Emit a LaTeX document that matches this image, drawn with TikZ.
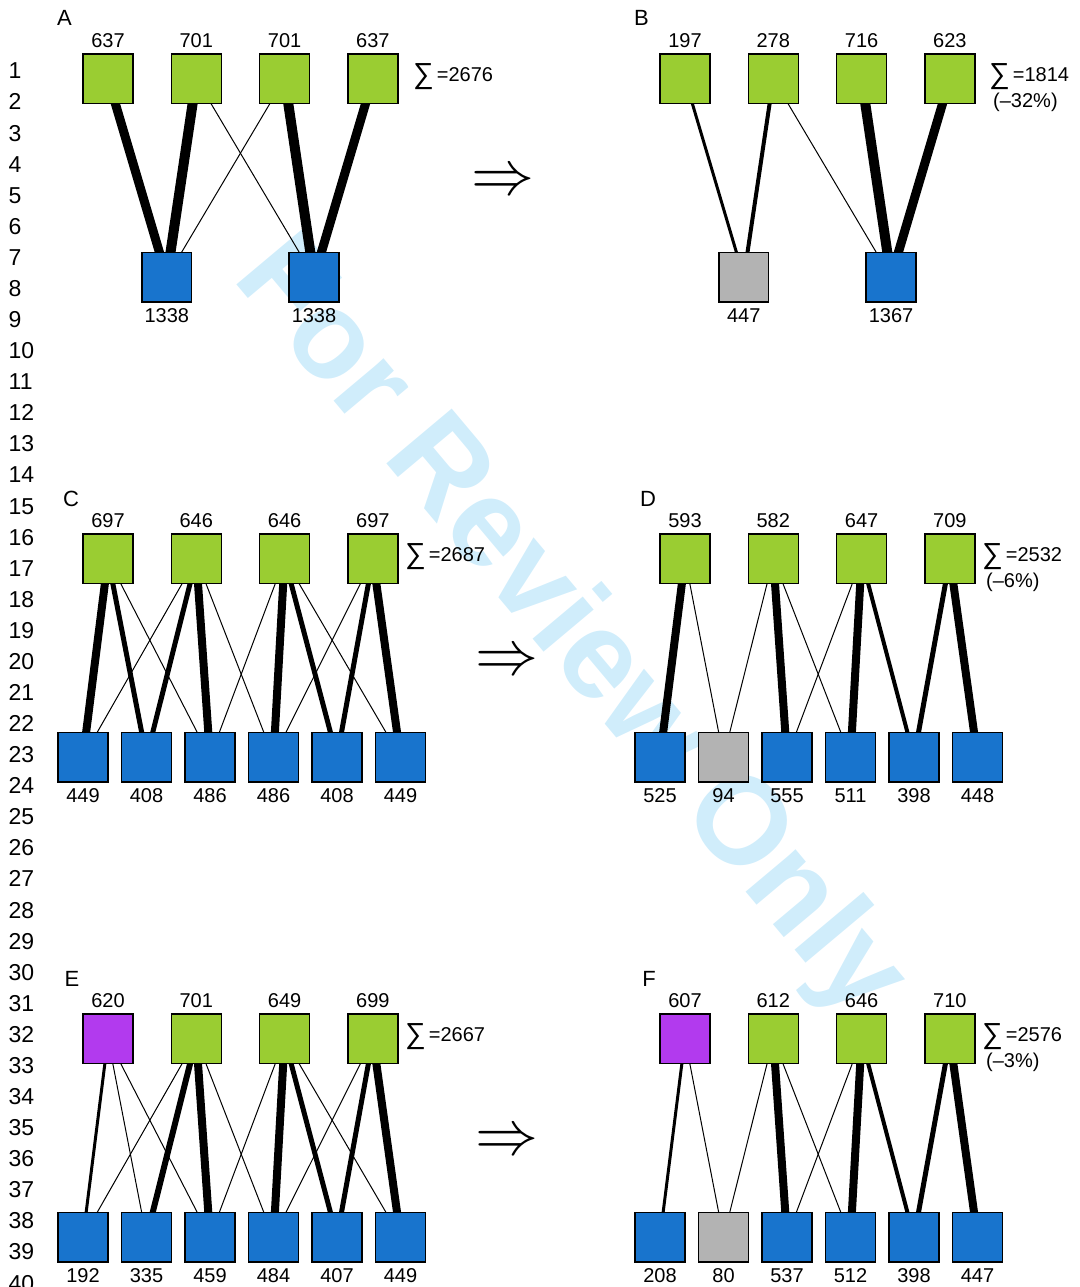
\documentclass[tikz,border=0pt]{standalone}
\usepackage{fontspec}
\setmainfont{Liberation Sans}
\usepackage{graphicx}

\definecolor{boxgreen}{RGB}{154,205,50}
\definecolor{boxblue}{RGB}{24,116,205}
\definecolor{boxgray}{RGB}{179,179,179}
\definecolor{boxpurple}{RGB}{178,58,238}
\definecolor{wmblue}{RGB}{208,237,251}

\pgfdeclarelayer{watermark}
\pgfdeclarelayer{links}
\pgfsetlayers{watermark,links,main}

% big summation sign followed by the total
\newcommand\sumof[1]{\raisebox{-2pt}{\scalebox{1.45}[1.45]{∑}}\kern3pt=#1}

\tikzset{
  cell/.style={draw=black, line width=1.4pt, minimum size=49.8pt, inner sep=0pt, outer sep=0pt},
  src/.style={cell, fill=boxgreen},
  snk/.style={cell, fill=boxblue},
  lost/.style={cell, fill=boxgray},
  mixed/.style={cell, fill=boxpurple},
  count/.style={font=\fontsize{20}{24}\selectfont, inner sep=0pt, anchor=base},
  panelname/.style={font=\fontsize{22}{26}\selectfont, inner sep=0pt, anchor=base},
  lineno/.style={font=\fontsize{23}{26}\selectfont, inner sep=0pt, anchor=base west},
  total/.style={font=\fontsize{20}{24}\selectfont, inner sep=0pt, anchor=base west},
  implies/.style={inner sep=0pt},
  link/.style={line width=#1pt},
}

\begin{document}
\begin{tikzpicture}[x=1pt, y=-1pt]
\useasboundingbox (0,0) rectangle (1079,1287);

% manuscript line numbers
\foreach \n in {1,...,40} {
  \node[lineno] (ln\n) at (8.5, {78.9+(\n-1)*31.08}) {\n};
}

% watermark
\begin{pgfonlayer}{watermark}
  \node[text=wmblue, font=\fontsize{124}{124}\bfseries\selectfont, rotate=-50, inner sep=0pt]
    (wm) at (568,630) {For Review Only};
\end{pgfonlayer}

% ---------------- panel A ----------------
\begin{scope}[shift={(0,0)}]
  \node[panelname] (A) at (64.5,26) {A};
  \foreach \i/\x/\v in {1/108/637, 2/196.3/701, 3/284.6/701, 4/372.9/637} {
    \node[src] (A-t\i) at (\x,78.8) {};
    \node[count] (A-tl\i) at (\x,47.2) {\v};
  }
  \foreach \i/\x/\v in {1/166.8/1338, 2/314/1338} {
    \node[snk] (A-b\i) at (\x,277.2) {};
    \node[count] (A-bl\i) at (\x,322.2) {\v};
  }
  \node[total] (A-sum) at (413,81.2) {\sumof{2676}};
  \node[implies] (A-arrow) at (502.5,183) {\scalebox{6.3}{$\Rightarrow$}};
\end{scope}
\begin{pgfonlayer}{links}
  \draw[link=9]  (A-t1.center) -- (A-b1.center);
  \draw[link=10] (A-t2.center) -- (A-b1.center);
  \draw[link=1]  (A-t2.center) -- (A-b2.center);
  \draw[link=1]  (A-t3.center) -- (A-b1.center);
  \draw[link=10] (A-t3.center) -- (A-b2.center);
  \draw[link=9]  (A-t4.center) -- (A-b2.center);
\end{pgfonlayer}

% ---------------- panel B ----------------
\begin{scope}[shift={(577,0)}]
  \node[panelname] (B) at (64.5,26) {B};
  \foreach \i/\x/\v in {1/108/197, 2/196.3/278, 3/284.6/716, 4/372.9/623} {
    \node[src] (B-t\i) at (\x,78.8) {};
    \node[count] (B-tl\i) at (\x,47.2) {\v};
  }
  \node[lost] (B-b1) at (166.8,277.2) {};
  \node[count] (B-bl1) at (166.8,322.2) {447};
  \node[snk] (B-b2) at (314,277.2) {};
  \node[count] (B-bl2) at (314,322.2) {1367};
  \node[total] (B-sum) at (412,81.2) {\sumof{1814}};
  \node[total] (B-pct) at (416,107.2) {(–32\%)};
\end{scope}
\begin{pgfonlayer}{links}
  \draw[link=3]  (B-t1.center) -- (B-b1.center);
  \draw[link=4]  (B-t2.center) -- (B-b1.center);
  \draw[link=1]  (B-t2.center) -- (B-b2.center);
  \draw[link=10] (B-t3.center) -- (B-b2.center);
  \draw[link=9]  (B-t4.center) -- (B-b2.center);
\end{pgfonlayer}

% ---------------- panel C ----------------
\begin{scope}[shift={(0,480)}]
  \node[panelname] (C) at (71,26) {C};
  \foreach \i/\x/\v in {1/108/697, 2/196.3/646, 3/284.6/646, 4/372.9/697} {
    \node[src] (C-t\i) at (\x,78.8) {};
    \node[count] (C-tl\i) at (\x,47.2) {\v};
  }
  \foreach \i/\x/\v in {1/83/449, 2/146.5/408, 3/210/486, 4/273.5/486, 5/337/408, 6/400.5/449} {
    \node[snk] (C-b\i) at (\x,277.2) {};
    \node[count] (C-bl\i) at (\x,322.2) {\v};
  }
  \node[total] (C-sum) at (405,81.2) {\sumof{2687}};
  \node[implies] (C-arrow) at (506.5,183) {\scalebox{6.3}{$\Rightarrow$}};
\end{scope}
\begin{pgfonlayer}{links}
  \draw[link=8] (C-t1.center) -- (C-b1.center);
  \draw[link=5] (C-t1.center) -- (C-b2.center);
  \draw[link=1] (C-t1.center) -- (C-b3.center);
  \draw[link=1] (C-t2.center) -- (C-b1.center);
  \draw[link=5] (C-t2.center) -- (C-b2.center);
  \draw[link=8] (C-t2.center) -- (C-b3.center);
  \draw[link=1] (C-t2.center) -- (C-b4.center);
  \draw[link=1] (C-t3.center) -- (C-b3.center);
  \draw[link=8] (C-t3.center) -- (C-b4.center);
  \draw[link=5] (C-t3.center) -- (C-b5.center);
  \draw[link=1] (C-t3.center) -- (C-b6.center);
  \draw[link=1] (C-t4.center) -- (C-b4.center);
  \draw[link=5] (C-t4.center) -- (C-b5.center);
  \draw[link=8] (C-t4.center) -- (C-b6.center);
\end{pgfonlayer}

% ---------------- panel D ----------------
\begin{scope}[shift={(577,480)}]
  \node[panelname] (D) at (71,26) {D};
  \foreach \i/\x/\v in {1/108/593, 2/196.3/582, 3/284.6/647, 4/372.9/709} {
    \node[src] (D-t\i) at (\x,78.8) {};
    \node[count] (D-tl\i) at (\x,47.2) {\v};
  }
  \foreach \i/\x/\v/\s in {1/83/525/snk, 2/146.5/94/lost, 3/210/555/snk, 4/273.5/511/snk, 5/337/398/snk, 6/400.5/448/snk} {
    \node[\s] (D-b\i) at (\x,277.2) {};
    \node[count] (D-bl\i) at (\x,322.2) {\v};
  }
  \node[total] (D-sum) at (405,81.2) {\sumof{2532}};
  \node[total] (D-pct) at (409,107) {(–6\%)};
\end{scope}
\begin{pgfonlayer}{links}
  \draw[link=8] (D-t1.center) -- (D-b1.center);
  \draw[link=1] (D-t1.center) -- (D-b2.center);
  \draw[link=1] (D-t2.center) -- (D-b2.center);
  \draw[link=8] (D-t2.center) -- (D-b3.center);
  \draw[link=1] (D-t2.center) -- (D-b4.center);
  \draw[link=1] (D-t3.center) -- (D-b3.center);
  \draw[link=8] (D-t3.center) -- (D-b4.center);
  \draw[link=4] (D-t3.center) -- (D-b5.center);
  \draw[link=5] (D-t4.center) -- (D-b5.center);
  \draw[link=8] (D-t4.center) -- (D-b6.center);
\end{pgfonlayer}

% ---------------- panel E ----------------
\begin{scope}[shift={(0,960)}]
  \node[panelname] (E) at (72,26) {E};
  \foreach \i/\x/\v/\s in {1/108/620/mixed, 2/196.3/701/src, 3/284.6/649/src, 4/372.9/699/src} {
    \node[\s] (E-t\i) at (\x,78.8) {};
    \node[count] (E-tl\i) at (\x,47.2) {\v};
  }
  \foreach \i/\x/\v in {1/83/192, 2/146.5/335, 3/210/459, 4/273.5/484, 5/337/407, 6/400.5/449} {
    \node[snk] (E-b\i) at (\x,277.2) {};
    \node[count] (E-bl\i) at (\x,322.2) {\v};
  }
  \node[total] (E-sum) at (405,81.2) {\sumof{2667}};
  \node[implies] (E-arrow) at (506.5,183) {\scalebox{6.3}{$\Rightarrow$}};
\end{scope}
\begin{pgfonlayer}{links}
  \draw[link=3] (E-t1.center) -- (E-b1.center);
  \draw[link=1] (E-t1.center) -- (E-b2.center);
  \draw[link=1] (E-t1.center) -- (E-b3.center);
  \draw[link=1] (E-t2.center) -- (E-b1.center);
  \draw[link=6] (E-t2.center) -- (E-b2.center);
  \draw[link=8] (E-t2.center) -- (E-b3.center);
  \draw[link=1] (E-t2.center) -- (E-b4.center);
  \draw[link=1] (E-t3.center) -- (E-b3.center);
  \draw[link=8] (E-t3.center) -- (E-b4.center);
  \draw[link=5] (E-t3.center) -- (E-b5.center);
  \draw[link=1] (E-t3.center) -- (E-b6.center);
  \draw[link=1] (E-t4.center) -- (E-b4.center);
  \draw[link=5] (E-t4.center) -- (E-b5.center);
  \draw[link=8] (E-t4.center) -- (E-b6.center);
\end{pgfonlayer}

% ---------------- panel F ----------------
\begin{scope}[shift={(577,960)}]
  \node[panelname] (F) at (72,26) {F};
  \foreach \i/\x/\v/\s in {1/108/607/mixed, 2/196.3/612/src, 3/284.6/646/src, 4/372.9/710/src} {
    \node[\s] (F-t\i) at (\x,78.8) {};
    \node[count] (F-tl\i) at (\x,47.2) {\v};
  }
  \foreach \i/\x/\v/\s in {1/83/208/snk, 2/146.5/80/lost, 3/210/537/snk, 4/273.5/512/snk, 5/337/398/snk, 6/400.5/447/snk} {
    \node[\s] (F-b\i) at (\x,277.2) {};
    \node[count] (F-bl\i) at (\x,322.2) {\v};
  }
  \node[total] (F-sum) at (405,81.2) {\sumof{2576}};
  \node[total] (F-pct) at (409,107) {(–3\%)};
\end{scope}
\begin{pgfonlayer}{links}
  \draw[link=3] (F-t1.center) -- (F-b1.center);
  \draw[link=1] (F-t1.center) -- (F-b2.center);
  \draw[link=1] (F-t2.center) -- (F-b2.center);
  \draw[link=8] (F-t2.center) -- (F-b3.center);
  \draw[link=1] (F-t2.center) -- (F-b4.center);
  \draw[link=1] (F-t3.center) -- (F-b3.center);
  \draw[link=8] (F-t3.center) -- (F-b4.center);
  \draw[link=4] (F-t3.center) -- (F-b5.center);
  \draw[link=5] (F-t4.center) -- (F-b5.center);
  \draw[link=8] (F-t4.center) -- (F-b6.center);
\end{pgfonlayer}
\end{tikzpicture}
\end{document}
